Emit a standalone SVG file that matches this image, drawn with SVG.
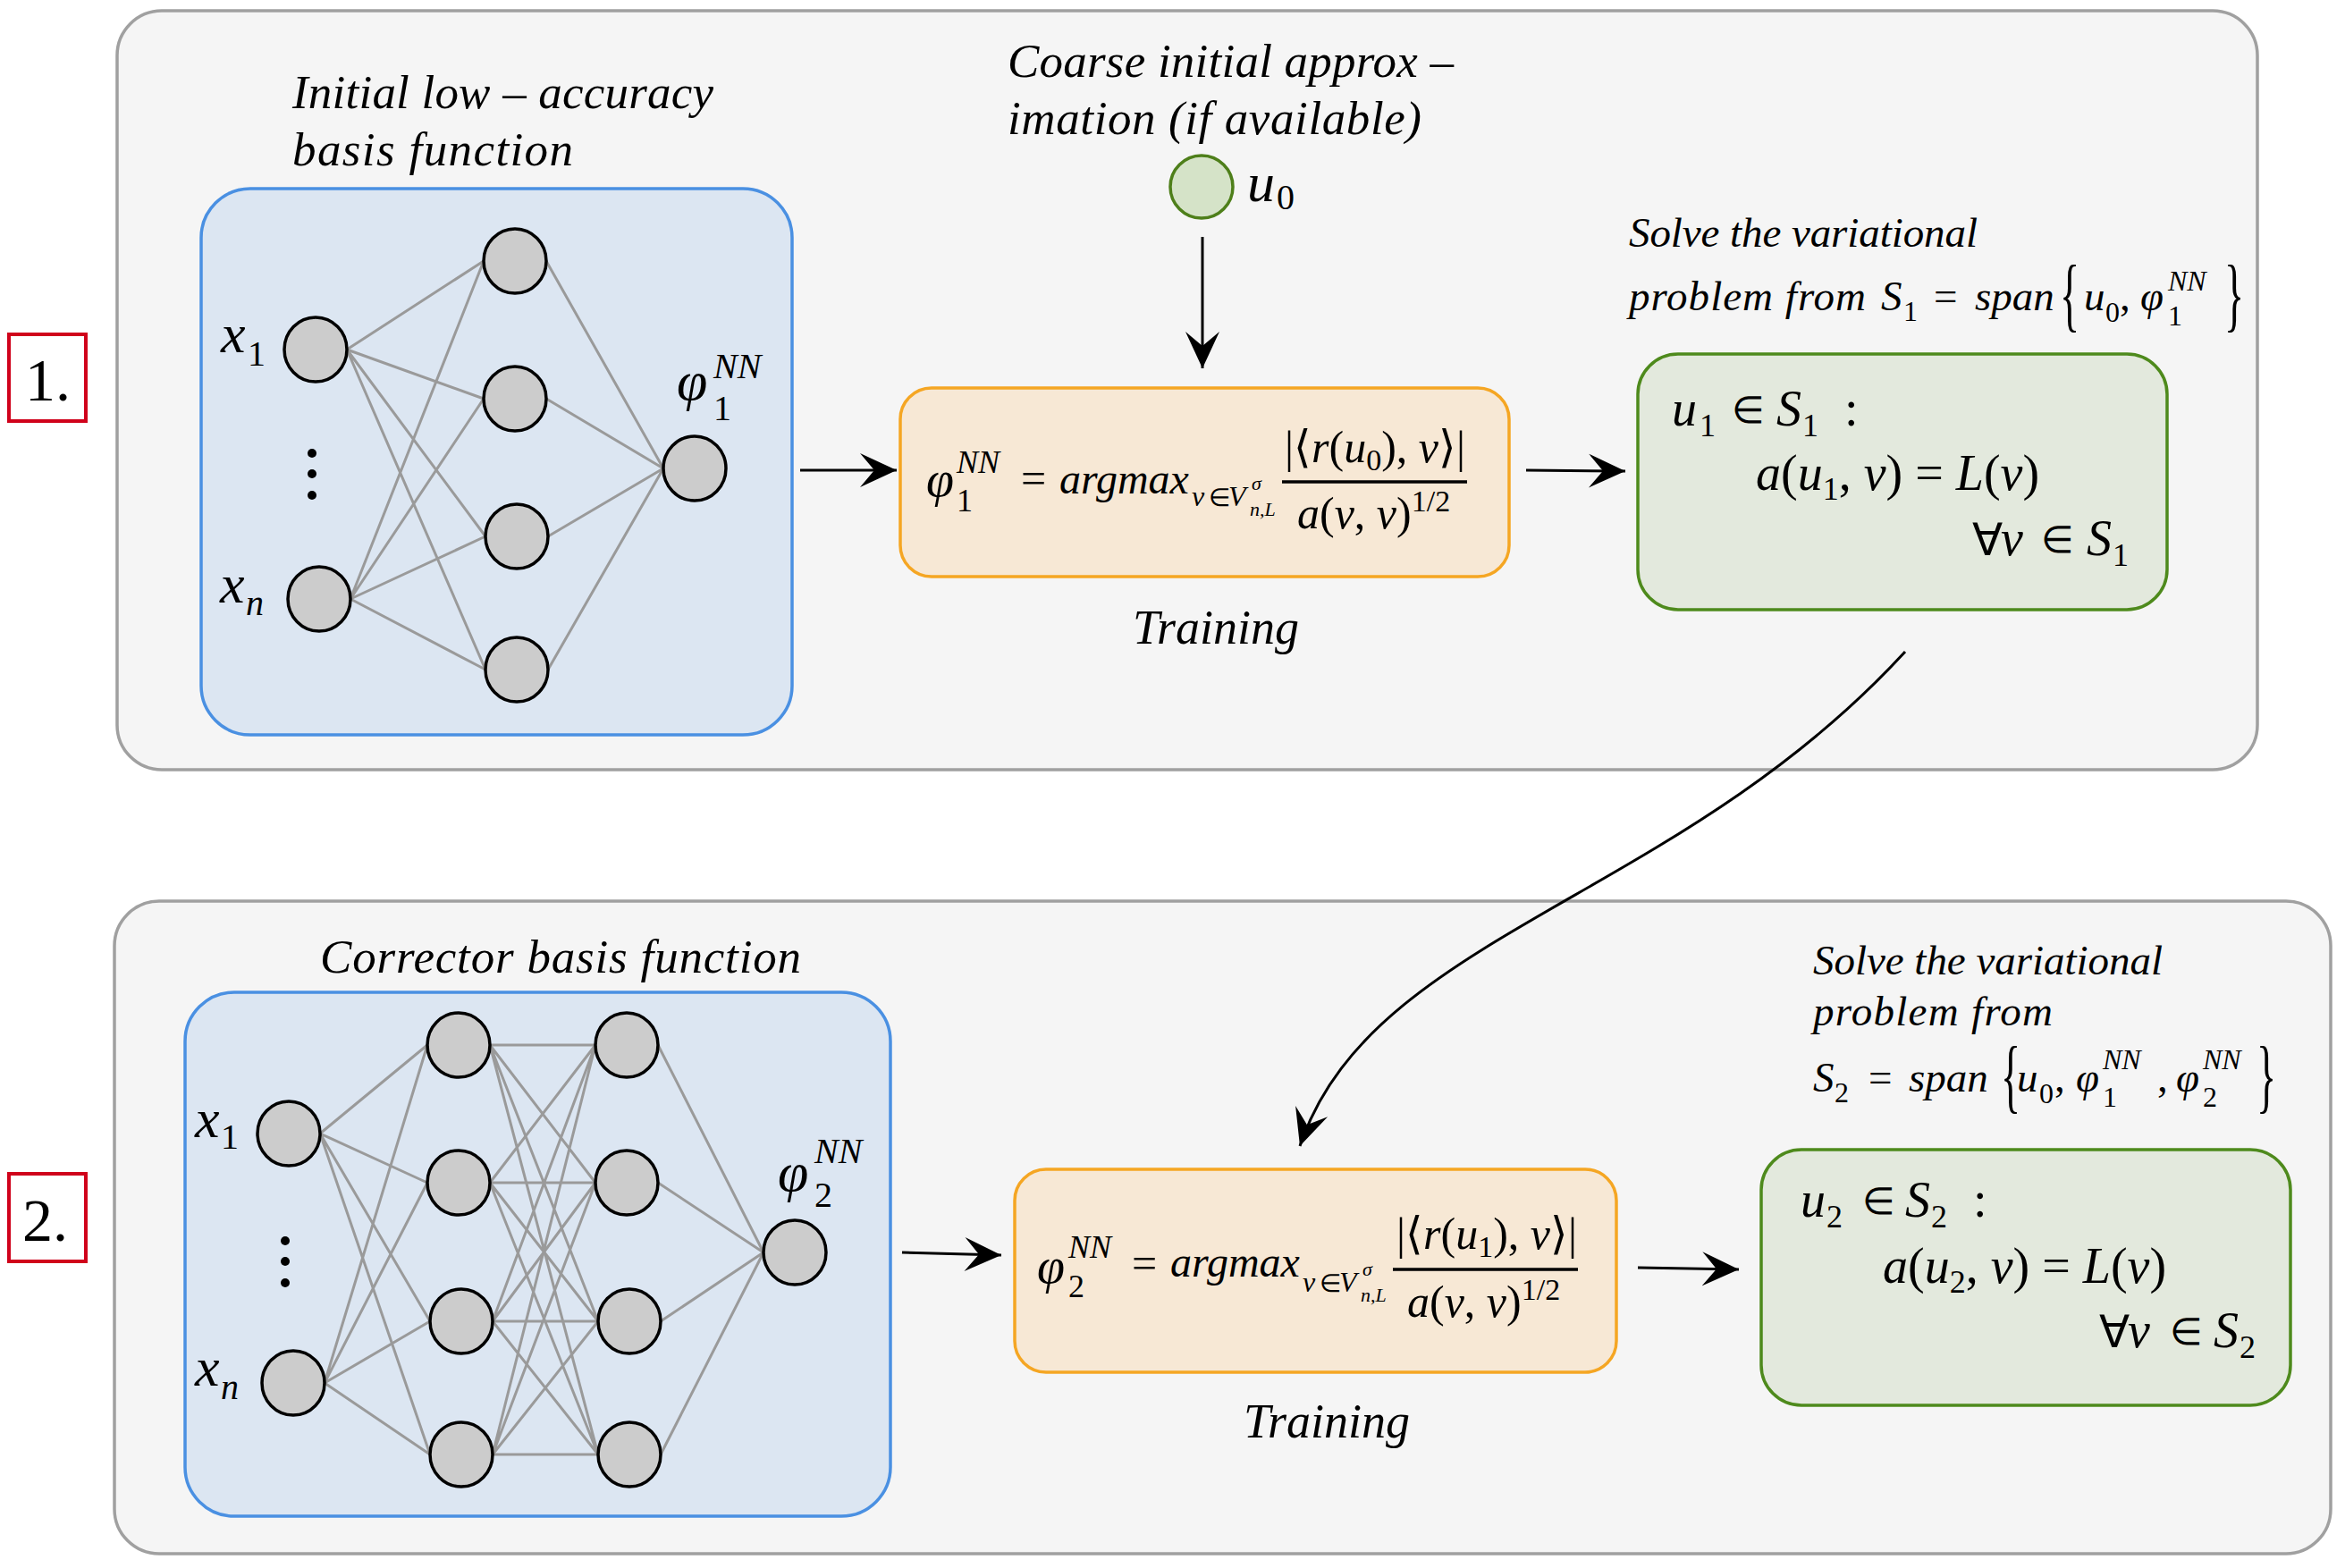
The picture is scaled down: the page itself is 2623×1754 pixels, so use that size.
<svg xmlns="http://www.w3.org/2000/svg" width="2623" height="1754" viewBox="0 0 2623 1754">
<defs>
<style>
text{font-family:'Liberation Serif','Noto Sans',sans-serif;font-style:italic;fill:#000}
.u{font-style:normal}
.stage{fill:#f5f5f5;stroke:#a0a0a0;stroke-width:3.5}
.tag{fill:#fff;stroke:#d0021b;stroke-width:4}
.tagt{font-style:normal;font-size:68px}
.nnbox{fill:#dce6f2;stroke:#4a90e2;stroke-width:3.5}
.neuron{fill:#cccccc;stroke:#000;stroke-width:3.5}
.edge{fill:none;stroke:#9a9a9a;stroke-width:3}
.train{fill:#f7e8d5;stroke:#f5a623;stroke-width:3.5}
.solve{fill:#e3e9dd;stroke:#4e8a1c;stroke-width:3.5}
.init{fill:#d5e3c8;stroke:#4e7f1a;stroke-width:3.5}
.conn{fill:none;stroke:#000;stroke-width:3;marker-end:url(#arr)}
.frac{stroke:#000;stroke-width:3.5}
.title{font-size:53px}
.sol{font-size:47px}
</style>
<marker id="arr" markerUnits="userSpaceOnUse" markerWidth="42" markerHeight="40" viewBox="0 0 42 40" refX="41" refY="20" orient="auto"><path d="M0,1 L41,20 L0,39 L16,20 Z" fill="#000"/></marker>
</defs>
<rect x="0" y="0" width="2623" height="1754" fill="#fff"/>

<!-- ===== Stage 1 ===== -->
<g id="stage1"><rect class="stage" x="131" y="12" width="2394" height="849" rx="50"/></g>
<g id="tag1"><rect class="tag" x="10" y="374" width="86" height="97"/><text class="tagt" x="28" y="448">1.</text></g>

<g id="nn1">
<text class="title" x="327" y="121" textLength="471">Initial low – accuracy</text>
<text class="title" x="327" y="185" textLength="314">basis function</text>
<rect class="nnbox" x="225" y="211" width="661" height="611" rx="55"/>
<path class="edge" d="M388 391L541 292M388 391L541 446M388 391L543 600M388 391L543 749M392 670L541 292M392 670L541 446M392 670L543 600M392 670L543 749M611 292L742 524M611 446L742 524M613 600L742 524M613 749L742 524"/>
<ellipse class="neuron" cx="353" cy="391" rx="35" ry="36"/>
<ellipse class="neuron" cx="357" cy="670" rx="35" ry="36"/>
<ellipse class="neuron" cx="576" cy="292" rx="35" ry="36"/>
<ellipse class="neuron" cx="576" cy="446" rx="35" ry="36"/>
<ellipse class="neuron" cx="578" cy="600" rx="35" ry="36"/>
<ellipse class="neuron" cx="578" cy="749" rx="35" ry="36"/>
<ellipse class="neuron" cx="777" cy="524" rx="35" ry="36"/>
<circle cx="349" cy="507" r="5"/><circle cx="349" cy="530" r="5"/><circle cx="349" cy="554" r="5"/>
<text font-size="62"><tspan x="247" y="394">x</tspan><tspan class="u" x="277" y="409" font-size="40">1</tspan></text>
<text font-size="62"><tspan x="246" y="674">x</tspan><tspan x="275" y="688" font-size="40">n</tspan></text>
<text font-size="62"><tspan x="757" y="447">φ</tspan><tspan x="798" y="423" font-size="40">NN</tspan><tspan class="u" x="798" y="470" font-size="40">1</tspan></text>
</g>

<g id="u0">
<text class="title" x="1127" y="86" textLength="499">Coarse initial approx –</text>
<text class="title" x="1127" y="150" textLength="463">imation (if available)</text>
<circle class="init" cx="1344" cy="209" r="35"/>
<text font-size="62"><tspan x="1395" y="225">u</tspan><tspan class="u" x="1428" y="234" font-size="40">0</tspan></text>
</g>

<g id="train1">
<rect class="train" x="1007" y="434" width="681" height="211" rx="35"/>
<text font-size="56"><tspan x="1036" y="555">φ</tspan><tspan x="1070" y="529" font-size="36">NN</tspan><tspan class="u" x="1070" y="572" font-size="36">1</tspan><tspan class="u" x="1142" y="552" font-size="50">=</tspan><tspan x="1185" y="552" font-size="48">argmax</tspan><tspan x="1333" y="566" font-size="32">v</tspan><tspan class="u" x="1352" y="566" font-size="28">∈</tspan><tspan x="1374" y="566" font-size="32">V</tspan><tspan x="1400" y="548" font-size="22">σ</tspan><tspan x="1398" y="577" font-size="22">n,L</tspan></text>
<text x="1437" y="517" font-size="50"><tspan class="u">|⟨</tspan>r<tspan class="u">(</tspan>u<tspan class="u" font-size="34" dy="9">0</tspan><tspan class="u" dy="-9">), </tspan>v<tspan class="u">⟩|</tspan></text>
<line class="frac" x1="1434" y1="539" x2="1641" y2="539"/>
<text x="1451" y="591" font-size="50">a<tspan class="u">(</tspan>v<tspan class="u">, </tspan>v<tspan class="u">)</tspan><tspan class="u" font-size="34" dy="-19">1/2</tspan></text>
<text x="1360" y="720" font-size="54" text-anchor="middle">Training</text>
</g>

<g id="solve1">
<text class="sol" x="1822" y="276" textLength="390">Solve the variational</text>
<text class="sol" x="1822" y="347" textLength="265">problem from</text>
<text font-size="47"><tspan x="2104" y="347">S</tspan><tspan class="u" x="2129" y="359" font-size="32">1</tspan><tspan class="u" x="2163" y="347">=</tspan><tspan x="2209" y="347">span</tspan><tspan x="2331" y="347">u</tspan><tspan class="u" x="2355" y="360" font-size="32">0</tspan><tspan class="u" x="2371" y="347">,</tspan><tspan x="2394" y="347">φ</tspan><tspan x="2425" y="325" font-size="32">NN</tspan><tspan class="u" x="2425" y="364" font-size="32">1</tspan></text>
<text class="u" font-size="46" transform="translate(2304 360) scale(1 2)">{</text>
<text class="u" font-size="46" transform="translate(2488 360) scale(1 2)">}</text>
<rect class="solve" x="1832" y="396" width="592" height="286" rx="45"/>
<text font-size="56"><tspan x="1870" y="476">u</tspan><tspan class="u" x="1901" y="488" font-size="36">1</tspan><tspan class="u" x="1937" y="473" font-size="42">∈</tspan><tspan x="1987" y="476">S</tspan><tspan class="u" x="2016" y="488" font-size="36">1</tspan><tspan class="u" x="2063" y="476">:</tspan></text>
<text x="1964" y="548" font-size="56">a<tspan class="u">(</tspan>u<tspan class="u" font-size="36" dy="11">1</tspan><tspan class="u" dy="-11">, </tspan>v<tspan class="u">) = </tspan>L<tspan class="u">(</tspan>v<tspan class="u">)</tspan></text>
<text font-size="56"><tspan class="u" x="2206" y="621" font-size="50">∀</tspan><tspan x="2238" y="621">v</tspan><tspan class="u" x="2283" y="618" font-size="42">∈</tspan><tspan x="2334" y="621">S</tspan><tspan class="u" x="2363" y="633" font-size="36">1</tspan></text>
</g>

<!-- ===== Stage 2 ===== -->
<g id="stage2"><rect class="stage" x="128" y="1008" width="2479" height="730" rx="50"/></g>
<g id="tag2"><rect class="tag" x="10" y="1313" width="86" height="98"/><text class="tagt" x="25" y="1388">2.</text></g>

<g id="nn2">
<text class="title" x="358" y="1088" textLength="538">Corrector basis function</text>
<rect class="nnbox" x="207" y="1110" width="789" height="586" rx="55"/>
<path class="edge" d="M358 1268L478 1169M358 1268L478 1323M358 1268L481 1478M358 1268L481 1627M363 1547L478 1169M363 1547L478 1323M363 1547L481 1478M363 1547L481 1627M548 1169L666 1169M548 1169L666 1323M548 1169L669 1478M548 1169L669 1627M548 1323L666 1169M548 1323L666 1323M548 1323L669 1478M548 1323L669 1627M551 1478L666 1169M551 1478L666 1323M551 1478L669 1478M551 1478L669 1627M551 1627L666 1169M551 1627L666 1323M551 1627L669 1478M551 1627L669 1627M736 1169L854 1401M736 1323L854 1401M739 1478L854 1401M739 1627L854 1401"/>
<ellipse class="neuron" cx="323" cy="1268" rx="35" ry="36"/>
<ellipse class="neuron" cx="328" cy="1547" rx="35" ry="36"/>
<ellipse class="neuron" cx="513" cy="1169" rx="35" ry="36"/>
<ellipse class="neuron" cx="513" cy="1323" rx="35" ry="36"/>
<ellipse class="neuron" cx="516" cy="1478" rx="35" ry="36"/>
<ellipse class="neuron" cx="516" cy="1627" rx="35" ry="36"/>
<ellipse class="neuron" cx="701" cy="1169" rx="35" ry="36"/>
<ellipse class="neuron" cx="701" cy="1323" rx="35" ry="36"/>
<ellipse class="neuron" cx="704" cy="1478" rx="35" ry="36"/>
<ellipse class="neuron" cx="704" cy="1627" rx="35" ry="36"/>
<ellipse class="neuron" cx="889" cy="1401" rx="35" ry="36"/>
<circle cx="319" cy="1388" r="5"/><circle cx="319" cy="1411" r="5"/><circle cx="319" cy="1435" r="5"/>
<text font-size="62"><tspan x="218" y="1272">x</tspan><tspan class="u" x="247" y="1285" font-size="40">1</tspan></text>
<text font-size="62"><tspan x="218" y="1550">x</tspan><tspan x="247" y="1565" font-size="40">n</tspan></text>
<text font-size="62"><tspan x="870" y="1332">φ</tspan><tspan x="911" y="1301" font-size="40">NN</tspan><tspan class="u" x="911" y="1350" font-size="40">2</tspan></text>
</g>

<g id="train2">
<rect class="train" x="1135" y="1308" width="673" height="227" rx="35"/>
<text font-size="56"><tspan x="1160" y="1435">φ</tspan><tspan x="1195" y="1407" font-size="36">NN</tspan><tspan class="u" x="1195" y="1451" font-size="36">2</tspan><tspan class="u" x="1266" y="1430" font-size="50">=</tspan><tspan x="1309" y="1428" font-size="48">argmax</tspan><tspan x="1457" y="1445" font-size="32">v</tspan><tspan class="u" x="1476" y="1445" font-size="28">∈</tspan><tspan x="1498" y="1445" font-size="32">V</tspan><tspan x="1524" y="1427" font-size="22">σ</tspan><tspan x="1522" y="1456" font-size="22">n,L</tspan></text>
<text x="1562" y="1397" font-size="50"><tspan class="u">|⟨</tspan>r<tspan class="u">(</tspan>u<tspan class="u" font-size="34" dy="9">1</tspan><tspan class="u" dy="-9">), </tspan>v<tspan class="u">⟩|</tspan></text>
<line class="frac" x1="1558" y1="1420" x2="1765" y2="1420"/>
<text x="1574" y="1473" font-size="50">a<tspan class="u">(</tspan>v<tspan class="u">, </tspan>v<tspan class="u">)</tspan><tspan class="u" font-size="34" dy="-19">1/2</tspan></text>
<text x="1484" y="1608" font-size="54" text-anchor="middle">Training</text>
</g>

<g id="solve2">
<text class="sol" x="2028" y="1090" textLength="391">Solve the variational</text>
<text class="sol" x="2028" y="1147" textLength="268">problem from</text>
<text font-size="47"><tspan x="2028" y="1221">S</tspan><tspan class="u" x="2052" y="1233" font-size="32">2</tspan><tspan class="u" x="2090" y="1221">=</tspan><tspan x="2135" y="1221">span</tspan><tspan x="2256" y="1221">u</tspan><tspan class="u" x="2281" y="1234" font-size="32">0</tspan><tspan class="u" x="2298" y="1221">,</tspan><tspan x="2322" y="1221">φ</tspan><tspan x="2352" y="1196" font-size="32">NN</tspan><tspan class="u" x="2352" y="1238" font-size="32">1</tspan><tspan class="u" x="2413" y="1221">,</tspan><tspan x="2434" y="1221">φ</tspan><tspan x="2464" y="1196" font-size="32">NN</tspan><tspan class="u" x="2464" y="1238" font-size="32">2</tspan></text>
<text class="u" font-size="46" transform="translate(2238 1234) scale(1 2)">{</text>
<text class="u" font-size="46" transform="translate(2524 1234) scale(1 2)">}</text>
<rect class="solve" x="1970" y="1286" width="592" height="286" rx="45"/>
<text font-size="56"><tspan x="2014" y="1361">u</tspan><tspan class="u" x="2043" y="1373" font-size="36">2</tspan><tspan class="u" x="2083" y="1358" font-size="42">∈</tspan><tspan x="2131" y="1361">S</tspan><tspan class="u" x="2160" y="1373" font-size="36">2</tspan><tspan class="u" x="2207" y="1361">:</tspan></text>
<text x="2106" y="1435" font-size="56">a<tspan class="u">(</tspan>u<tspan class="u" font-size="36" dy="11">2</tspan><tspan class="u" dy="-11">, </tspan>v<tspan class="u">) = </tspan>L<tspan class="u">(</tspan>v<tspan class="u">)</tspan></text>
<text font-size="56"><tspan class="u" x="2348" y="1507" font-size="50">∀</tspan><tspan x="2380" y="1507">v</tspan><tspan class="u" x="2427" y="1504" font-size="42">∈</tspan><tspan x="2476" y="1507">S</tspan><tspan class="u" x="2505" y="1519" font-size="36">2</tspan></text>
</g>

<!-- ===== Connectors ===== -->
<g id="connectors">
<path class="conn" d="M895 526 L1003 526"/>
<path class="conn" d="M1345 265 L1345 412"/>
<path class="conn" d="M1707 526 L1818 527"/>
<path class="conn" d="M2131 729 C1873 1010 1534 1044.5 1454 1282"/>
<path class="conn" d="M1009 1401 L1120 1404"/>
<path class="conn" d="M1832 1418 L1945 1420"/>
</g>
</svg>
